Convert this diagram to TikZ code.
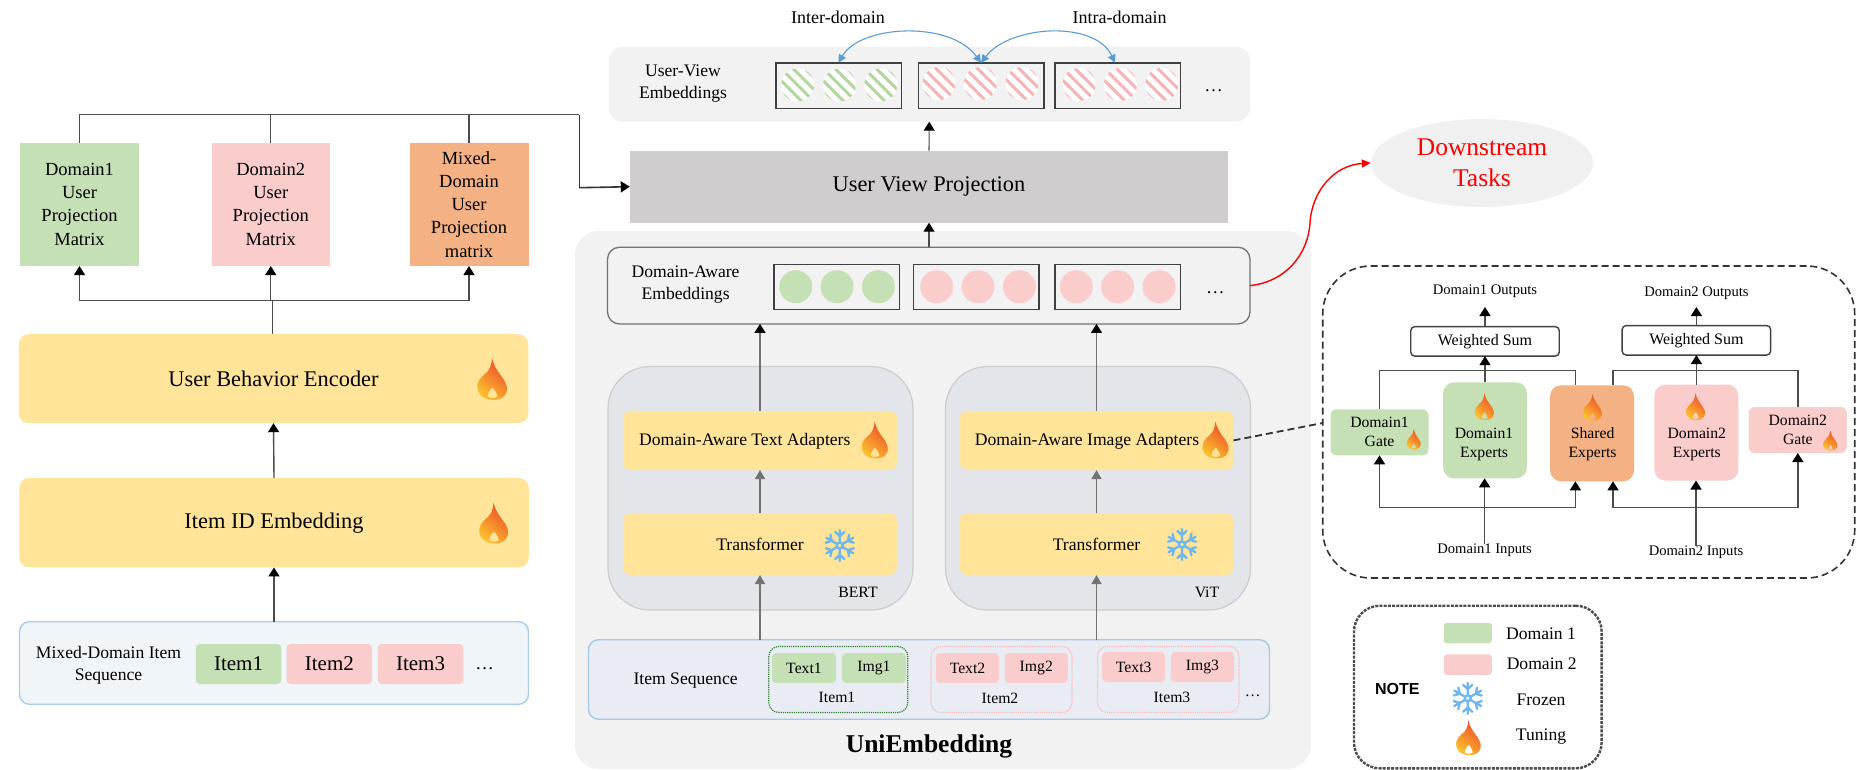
\documentclass[tikz,border=0pt]{standalone}
\usepackage{fontspec}
\setmainfont{Liberation Serif}
\setsansfont{Liberation Sans}
\usetikzlibrary{arrows.meta,positioning,calc,shapes.geometric}

\definecolor{dgreen}{HTML}{C5E0B4}
\definecolor{dpink}{HTML}{FBCCCC}
\definecolor{dorange}{HTML}{F4B183}
\definecolor{dyellow}{HTML}{FFE499}
\definecolor{dgray}{HTML}{CFCDCD}
\definecolor{dpanel}{HTML}{F2F2F2}
\definecolor{dmodel}{HTML}{E2E5E9}
\definecolor{dseq}{HTML}{E9EDF3}
\definecolor{dmix}{HTML}{F0F5FA}
\definecolor{dblue}{HTML}{5B9BD5}
\definecolor{dice}{HTML}{6DB6EE}
\definecolor{dstripeg}{HTML}{B4D69F}
\definecolor{dstripep}{HTML}{F8B4B4}
\definecolor{dflamet}{HTML}{EE4A2A}
\definecolor{dflameb}{HTML}{FBC02D}

\tikzset{
  pics/flame/.style={code={
    \shade[top color=dflamet, bottom color=dflameb, shading angle=-40, even odd rule]
      (0,.5) .. controls (-.28,.48) and (-.38,.3) .. (-.36,.15)
      .. controls (-.34,.03) and (-.26,-.05) .. (-.2,-.1)
      .. controls (-.06,-.2) and (-.02,-.35) .. (-.01,-.5)
      .. controls (.03,-.32) and (.1,-.22) .. (.2,-.08)
      .. controls (.33,.08) and (.4,.25) .. (.3,.38)
      .. controls (.24,.47) and (.12,.5) .. (0,.5) -- cycle
      (-.12,.42) .. controls (-.1,.3) and (-.04,.24) .. (0,.2)
      .. controls (.05,.25) and (.1,.32) .. (.12,.42)
      .. controls (.06,.47) and (-.06,.47) .. (-.12,.42) -- cycle;
  }},
  pics/snowflake/.style={code={
    \draw[dice,line width=2.3pt] (0,0) circle (.09);
    \foreach \a in {0,60,...,300} {
      \draw[dice,line width=2.3pt,rotate=\a,line cap=round]
        (0,-.1) -- (0,-.47) (-.14,-.41) -- (0,-.28) -- (.14,-.41);
    }
  }},
  pics/stripedot/.style={code={
    \begin{scope}
      \clip (0,0) circle (16.5);
      \fill[white] (-17,-17) rectangle (17,17);
      \foreach \s in {-24,-12,...,24} {
        \draw[#1,line width=3pt] (\s-20,-20) -- (\s+20,20);
      }
    \end{scope}
  }}
}

\begin{document}
\begin{tikzpicture}[x=1pt,y=-1pt,>={Triangle[length=9pt,width=11pt,black]},
      flow/.style={draw=black!70,line width=1.4pt},
      graytip/.style={flow,draw=black!55,>={Triangle[length=9pt,width=10pt]}},
      flat/.style={inner sep=0pt,outer sep=0pt,align=center,font=\fontsize{18.5}{23.3}\selectfont},
      small/.style={inner sep=0pt,outer sep=0pt,align=center,font=\fontsize{15.7}{19}\selectfont},
      tiny/.style={inner sep=0pt,outer sep=0pt,align=center,font=\fontsize{14.6}{18}\selectfont},
      mid/.style={inner sep=0pt,outer sep=0pt,align=center,font=\fontsize{17.6}{22}\selectfont},
      big/.style={inner sep=0pt,outer sep=0pt,align=center,font=\fontsize{22.4}{27}\selectfont},
      matbox/.style={flat,minimum width=119,minimum height=123.5},
      yellowbox/.style={big,fill=dyellow,rounded corners=10,minimum width=509.5},
      adapter/.style={fill=dyellow,rounded corners=8,inner sep=0pt,outer sep=0pt,minimum width=274},
      chip/.style={inner sep=0pt,outer sep=0pt,rounded corners=4,minimum width=85.5,minimum height=40,
        font=\fontsize{21}{25}\selectfont},
      smallchip/.style={small,rounded corners=4,minimum width=63,minimum height=30},
      itemgroup/.style={inner sep=0pt,outer sep=0pt,rounded corners=10,densely dotted,line width=1.2pt,
        minimum width=139,minimum height=66},
      strip/.style={draw=black!75,line width=1.5pt,inner sep=0pt,outer sep=0pt,minimum width=125.5,minimum height=45.5},
      expert/.style={inner sep=0pt,outer sep=0pt,rounded corners=11,minimum width=84,minimum height=96},
      gate/.style={small,rounded corners=6,minimum width=98,minimum height=46},
      wsum/.style={small,font=\fontsize{16}{19}\selectfont,draw=black!75,line width=1.4pt,rounded corners=4,fill=white,
        minimum width=148.5,minimum height=29.5},
      model/.style={fill=dmodel,draw=black!20,line width=1.2pt,rounded corners=42,inner sep=0pt,outer sep=0pt,
        minimum width=305,minimum height=243.5},
      swatch/.style={inner sep=0pt,rounded corners=3,minimum width=48,minimum height=20.5}]
  \useasboundingbox (0,0) rectangle (1863,769);

  % panels in the back
  \node[fill=dpanel,rounded corners=14,inner sep=0pt,outer sep=0pt,minimum width=641.5,minimum height=75] at (929.25,84.2) (uvpanel) {};
  \node[fill=dpanel,rounded corners=24,inner sep=0pt,outer sep=0pt,minimum width=736,minimum height=538] at (943,500) (unipanel) {};

  % left column
  \node[matbox,fill=dgreen]  at (79.5,204.3)  (d1mat) {Domain1\\User\\Projection\\Matrix};
  \node[matbox,fill=dpink,minimum width=117.5]   at (270.75,204.3) (d2mat) {Domain2\\User\\Projection\\Matrix};
  \node[matbox,fill=dorange] at (469,204.3)   (mixmat) {Mixed-\\Domain\\User\\Projection\\matrix};
  \node[yellowbox,minimum height=89] at (273.5,378.7) (encoder) {User Behavior Encoder};
  \node[yellowbox,minimum height=89.5] at (274,522.7) (idemb) {Item ID Embedding};
  \node[fill=dmix,draw=dblue!50,line width=1.4pt,rounded corners=10,inner sep=0pt,outer sep=0pt,
    minimum width=509,minimum height=82.6] at (274,663) (mixseq) {};
  \node[mid] at (108.5,665) (mixlabel) {Mixed-Domain Item\\Sequence};
  \node[chip,fill=dgreen] at (238.5,664) (mitem1) {Item1};
  \node[chip,fill=dpink]  at (329.4,664) (mitem2) {Item2};
  \node[chip,fill=dpink]  at (420.5,664) (mitem3) {Item3};
  \node[flat] at (484.6,669) (mdots) {\ldots};
  \pic[scale=42] at (492.5,379) {flame};
  \pic[scale=41] at (494,523) {flame};

  \coordinate (enctap) at (272.5,300.7);
  \coordinate (toptap) at (579.4,114.7);
  \draw[flow,->] (mixseq.north) -- (idemb.south);
  \draw[flow,->] (idemb.north) -- (encoder.south);
  \draw[flow] (encoder.north -| enctap) -- (enctap);
  \draw[flow,->] (enctap) -| (d1mat.south);
  \draw[flow,->] (enctap -| d2mat) -- (d2mat.south);
  \draw[flow,->] (enctap) -| (mixmat.south);
  \draw[flow] (d1mat.north) |- (toptap);
  \draw[flow] (d2mat.north) -- (d2mat.north |- toptap);
  \draw[flow] (mixmat.north) -- (mixmat.north |- toptap);

  % user view part
  \node[fill=dgray,big,inner sep=0pt,outer sep=0pt,minimum width=598.4,minimum height=72] at (929,186.7) (uvproj) {User View Projection};
  \node[mid] at (683,83.5) (uvlabel) {User-View\\Embeddings};
  \node[strip] at (838.5,85.5)  (uv1) {};
  \node[strip] at (981,85.5)    (uv2) {};
  \node[strip] at (1117.7,85.5) (uv3) {};
  \foreach \cx in {797.6,839.4,880.7} \pic at (\cx,85) {stripedot=dstripeg};
  \foreach \cx in {939,980.4,1022}    \pic at (\cx,83.5) {stripedot=dstripep};
  \foreach \cx in {1079,1120.4,1161.7} \pic at (\cx,84.5) {stripedot=dstripep};
  \node[flat] at (1213.6,91) (uvdots) {\ldots};
  \node[mid,font=\fontsize{18}{22}\selectfont] at (838,17) (inter) {Inter-domain};
  \node[mid,font=\fontsize{18}{22}\selectfont] at (1119.5,17) (intra) {Intra-domain};
  \draw[dblue,line width=1.1pt,{Triangle[length=8pt,width=8pt]}-{Triangle[length=8pt,width=8pt]}]
    (uv2.north) .. controls (950,20) and (860,25) .. (uv1.north);
  \draw[dblue,line width=1.1pt,{Triangle[length=8pt,width=8pt]}-{Triangle[length=8pt,width=8pt]}]
    (uv2.north) .. controls (1010,25) and (1095,20) .. (uv3.north -| 1115,0);

  \draw[flow,->,line width=1.1pt] (uvproj.north) -- (uvpanel.south);
  \draw[flow,line width=1.6pt,draw=black!80] (toptap) |- (579.4,187.7) coordinate (uvjoin);
  \draw[flow,->,line width=1.6pt,draw=black!80] (uvjoin) -- (uvproj.west);

  % UniEmbedding
  \node[draw=black!55,line width=1.3pt,rounded corners=12,inner sep=0pt,outer sep=0pt,minimum width=642.5,minimum height=76.7] at (928.75,285.6) (dabox) {};
  \node[mid] at (685.6,285) (dalabel) {Domain-Aware\\Embeddings};
  \node[strip,minimum height=45] at (836.7,286.8) (da1) {};
  \node[strip,minimum height=45] at (976.4,286.8) (da2) {};
  \node[strip,minimum height=45] at (1117.6,286.8) (da3) {};
  \foreach \cx in {795.8,837,878.4} \fill[dgreen] (\cx,286.7) circle (16.5);
  \foreach \cx in {936.7,978,1019.4,1076.3,1117.6,1159} \fill[dpink] (\cx,286.7) circle (16.5);
  \node[flat] at (1215.4,293) (dadots) {\ldots};

  \node[model] at (760.5,488.3)  (bert) {};
  \node[model] at (1098,488.3) (vit) {};
  \node[adapter,minimum height=59.3] at (760,440.4) (textad) {};
  \node[adapter,minimum height=59.3] at (1096.5,440.4) (imgad) {};
  \node[mid] at (744.8,441.7) (textadl) {Domain-Aware Text Adapters};
  \node[mid] at (1087,441.7) (imgadl) {Domain-Aware Image Adapters};
  \pic[scale=37] at (875,440) {flame};
  \pic[scale=37] at (1215.8,440) {flame};
  \node[adapter,mid,minimum height=62] at (760,544) (textenc) {Transformer};
  \node[adapter,mid,minimum height=62] at (1096.5,544) (imgenc) {Transformer};
  \pic[scale=33] at (839.8,545.5) {snowflake};
  \pic[scale=33] at (1182,544.5) {snowflake};
  \node[mid,font=\fontsize{15.8}{19}\selectfont] at (858,592.7) (bertl) {BERT};
  \node[mid,font=\fontsize{15.8}{19}\selectfont] at (1207,592.7) (vitl) {ViT};

  \node[fill=dseq,draw=dblue!55,line width=1.4pt,rounded corners=10,inner sep=0pt,outer sep=0pt,minimum width=681,minimum height=79.5] at (929,679.5) (itemseq) {};
  \node[mid] at (685.6,681) (itemseql) {Item Sequence};
  \node[itemgroup,draw=green!35!black!80] at (838.3,679.5) (group1) {};
  \node[itemgroup,draw=dpink!90!red,minimum width=141] at (1001.5,679.5) (group2) {};
  \node[itemgroup,draw=dpink!90!red,minimum width=141.5] at (1168.2,679.5) (group3) {};
  \node[smallchip,fill=dgreen,minimum width=64] at (804,668) (text1) {Text1};
  \node[smallchip,fill=dgreen,minimum width=64] at (874,668) (img1) {Img1};
  \node[smallchip,fill=dpink] at (967.5,668) (text2) {Text2};
  \node[smallchip,fill=dpink] at (1036.3,668) (img2) {Img2};
  \node[smallchip,fill=dpink] at (1133.7,667) (text3) {Text3};
  \node[smallchip,fill=dpink] at (1202.5,667) (img3) {Img3};
  \node[small] at (837,697.7) (item1) {Item1};
  \node[small] at (1000,698.5) (item2) {Item2};
  \node[small] at (1172,697.7) (item3) {Item3};
  \node[small] at (1252.6,696) (itemdots) {\ldots};
  \node[inner sep=0pt,font=\bfseries\fontsize{25.6}{30}\selectfont] at (929,746) (uni) {UniEmbedding};

  \draw[flow,->,line width=1.1pt] (dabox.north -| uvproj) -- (uvproj.south);
  \draw[graytip,->,>={Triangle[length=9pt,width=11pt,black]}] (textad.north) -- (dabox.south -| textad);
  \draw[graytip,->,>={Triangle[length=9pt,width=11pt,black]}] (imgad.north) -- (dabox.south -| imgad);
  \draw[graytip,->] (textenc.north) -- (textad.south);
  \draw[graytip,->] (imgenc.north) -- (imgad.south);
  \draw[graytip,->] (itemseq.north -| textenc) -- (textenc.south);
  \draw[graytip,->] (itemseq.north -| imgenc) -- (imgenc.south);

  % downstream
  \node[ellipse,fill=black!6,inner sep=0pt,minimum width=222,minimum height=88,text=red,align=center,
    font=\fontsize{25.5}{31}\selectfont] at (1482,163) (down) {Downstream\\Tasks};
  \draw[red,line width=1.4pt,->,>={Triangle[length=9pt,width=8pt]}] (dabox.east)
    .. controls (1285,282) and (1308,255) .. (1310,223)
    .. controls (1312,190) and (1335,165) .. (down.west);

  % expert module
  \node[draw=black!80,dash pattern=on 7pt off 4pt,line width=1.6pt,rounded corners=48,inner sep=0pt,outer sep=0pt,minimum width=532,minimum height=312] at (1588.7,422) (ple) {};
  \draw[black!80,dash pattern=on 7pt off 4pt,line width=1.8pt] (imgad.east) -- (ple.west |- 0,423);
  \node[gate,fill=dgreen] at (1379.5,432.3) (gate1) {Domain1\\Gate};
  \node[gate,fill=dpink]  at (1797.8,430) (gate2) {Domain2\\Gate};
  \node[expert,fill=dgreen]  at (1485,430.3) (exp1) {};
  \node[expert,fill=dorange] at (1592,433.3) (shared) {};
  \node[expert,fill=dpink]   at (1696.4,432.5) (exp2) {};
  \node[small] at (1484,444) (exp1l) {Domain1\\Experts};
  \node[small] at (1592.6,444.5) (sharedl) {Shared\\Experts};
  \node[small] at (1696.8,444) (exp2l) {Domain2\\Experts};
  \pic[scale=27] at (1484.6,406.7) {flame};
  \pic[scale=27] at (1592.6,407.3) {flame};
  \pic[scale=27] at (1695.7,406.7) {flame};
  \pic[scale=20] at (1413.8,439.3) {flame};
  \pic[scale=20] at (1830.3,440.7) {flame};
  \node[wsum] at (1485,341.4) (sum1) {Weighted Sum};
  \node[wsum] at (1696.4,340.3) (sum2) {Weighted Sum};
  \node[tiny] at (1485,291.7) (out1) {Domain1 Outputs};
  \node[tiny] at (1696.4,293.3) (out2) {Domain2 Outputs};
  \node[tiny] at (1484.6,550.7) (in1) {Domain1 Inputs};
  \node[tiny] at (1696,552.3) (in2) {Domain2 Inputs};
  \coordinate (s1top) at (1575.4,385);
  \coordinate (s2top) at (1613,385);
  \coordinate (s1bot) at (1575.4,481.3);
  \coordinate (s2bot) at (1613,481.3);

  \draw[flow,->] (sum1.north) -- (out1.south |- 0,307);
  \draw[flow,->] (sum2.north) -- (out2.south |- 0,307);
  \draw[flow,->] (exp1.north -| sum1) -- (sum1.south);
  \draw[flow,->] (exp2.north -| sum2) -- (sum2.south);
  \draw[flow] (gate1.north) |- (1575.4,370.5) -- (s1top);
  \draw[flow] (gate2.north) |- (1613,370.5) -- (s2top);
  \draw[flow,<->] (gate1.south) |- (1575.4,507.7) -- (s1bot);
  \draw[flow,<->] (gate2.south) |- (1613,507.7) -- (s2bot);
  \draw[flow,->] (in1.north) -- (exp1.south -| in1);
  \draw[flow,->] (in2.north) -- (exp2.south -| in2);

  % note
  \node[draw=black!70,line width=2.4pt,dash pattern=on 3pt off 1.2pt,rounded corners=26,inner sep=0pt,outer sep=0pt,minimum width=247.7,minimum height=162.6] at (1477.8,687) (note) {};
  \node[inner sep=0pt,font=\sffamily\bfseries\fontsize{16}{19}\selectfont] at (1397.3,689) (notel) {NOTE};
  \node[swatch,fill=dgreen] at (1467.8,633) (swatch1) {};
  \node[swatch,fill=dpink]  at (1467.8,664.7) (swatch2) {};
  \pic[scale=33] at (1467.7,698.3) {snowflake};
  \pic[scale=35] at (1468.7,737.7) {flame};
  \node[mid] at (1541,633.7) (leg1) {Domain 1};
  \node[mid] at (1541.7,663.3) (leg2) {Domain 2};
  \node[mid] at (1541,700) (leg3) {Frozen};
  \node[mid] at (1541,737) (leg4) {Tuning};
\end{tikzpicture}
\end{document}
